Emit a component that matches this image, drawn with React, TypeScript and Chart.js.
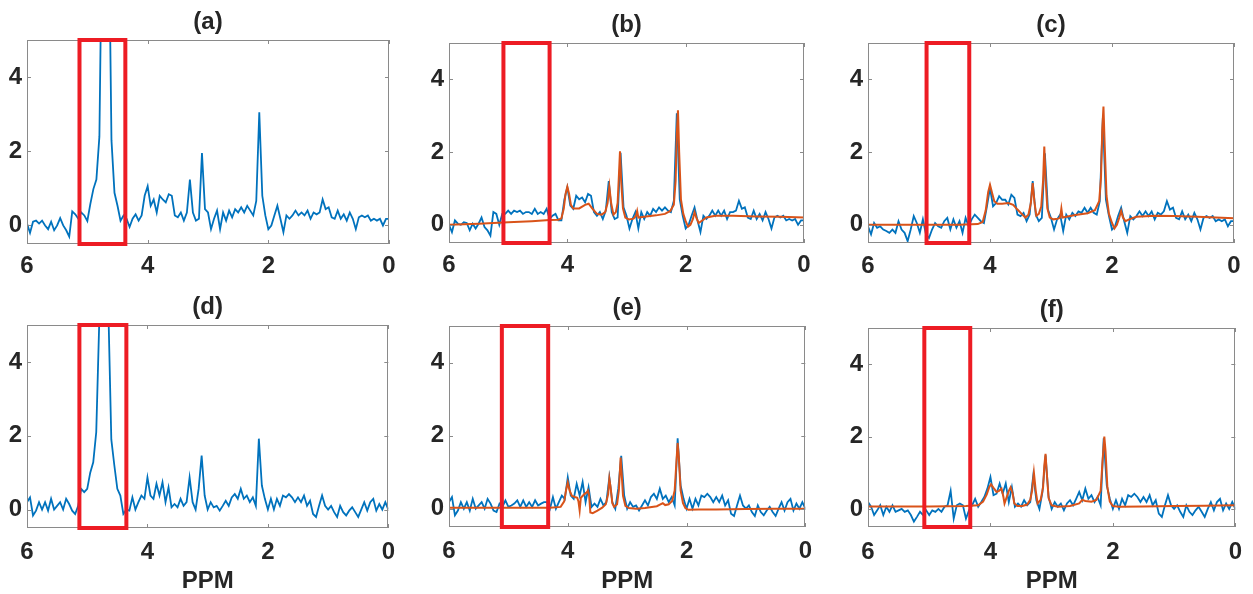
import { useEffect, useRef } from 'react';
import { Chart, registerables } from 'chart.js';

Chart.register(...registerables);

// ---------- DATA ----------
const panelTitles = ['(a)', '(b)', '(c)', '(d)', '(e)', '(f)'];
const xTicks = [6, 4, 2, 0];
const yTicks = [0, 2, 4];
const xAxisLabel = 'PPM';

// chemical-shift grid (ppm) for the measured spectra
const ppm = [
  6.0, 5.95, 5.9, 5.85, 5.8, 5.75, 5.7, 5.65, 5.6, 5.55, 5.5, 5.45, 5.4, 5.35, 5.3, 5.25, 5.2, 5.15, 5.1, 5.05,
  5.0, 4.95, 4.9, 4.85, 4.8, 4.75, 4.7, 4.65, 4.6, 4.55, 4.5, 4.45, 4.4, 4.35, 4.3, 4.25, 4.2, 4.15, 4.1, 4.05,
  4.0, 3.95, 3.9, 3.85, 3.8, 3.75, 3.7, 3.65, 3.6, 3.55, 3.5, 3.45, 3.4, 3.35, 3.3, 3.25, 3.2, 3.15, 3.1, 3.05,
  3.0, 2.95, 2.9, 2.85, 2.8, 2.75, 2.7, 2.65, 2.6, 2.55, 2.5, 2.45, 2.4, 2.35, 2.3, 2.25, 2.2, 2.15, 2.1, 2.05,
  2.0, 1.95, 1.9, 1.85, 1.8, 1.75, 1.7, 1.65, 1.6, 1.55, 1.5, 1.45, 1.4, 1.35, 1.3, 1.25, 1.2, 1.15, 1.1, 1.05,
  1.0, 0.95, 0.9, 0.85, 0.8, 0.75, 0.7, 0.65, 0.6, 0.55, 0.5, 0.45, 0.4, 0.35, 0.3, 0.25, 0.2, 0.15, 0.1, 0.05,
  0.0,
];

const spectrumA = [
  0.05, -0.2, 0.1, 0.13, 0.05, 0.13, 0, -0.1, 0.1, -0.13, 0, 0.2, 0, -0.13, -0.3, 0.38, 0.3, 0.18, 0.35, 0.27,
  0.12, 0.58, 0.98, 1.24, 2.4, 9, 14, 9, 2.3, 0.88, 0.53, 0.13, 0.27, 0.18, -0.04, 0.18, 0.3, 0.13, 0.27, 0.8,
  1.06, 0.53, 0.7, 0.35, 0.8, 0.7, 0.62, 0.84, 0.8, 0.27, 0.22, 0.35, 0.13, 0.35, 1.24, 0.35, 0.13, 0.18, 1.95, 0.44,
  0.35, -0.1, 0.18, 0.4, -0.1, 0.35, 0.13, 0.4, 0.22, 0.44, 0.35, 0.49, 0.35, 0.53, 0.4, 0.27, 0.66, 3.05, 0.8, 0.27,
  -0.1, 0, 0.27, 0.53, 0.18, -0.18, 0.27, 0.18, 0.27, 0.4, 0.27, 0.35, 0.27, 0.4, 0.18, 0.35, 0.3, 0.35, 0.7, 0.44,
  0.49, 0.22, 0.18, 0.4, 0.18, 0.3, 0.13, 0.35, 0.18, -0.1, 0.22, 0.27, 0.22, 0.27, 0.13, 0.18, 0.13, 0.18, 0, 0.18,
  0.18,
];

const spectrumB = [
  0, -0.2, 0.12, 0.03, 0, 0.07, 0.05, -0.15, 0.03, -0.1, 0.03, 0.2, -0.06, -0.15, -0.3, 0.35, 0.3, 0, 0.3, 0.3,
  0.39, 0.3, 0.39, 0.35, 0.39, 0.3, 0.35, 0.35, 0.3, 0.44, 0.3, 0.35, 0.3, 0.44, 0.16, 0.25, 0.3, 0.12, 0.12, 0.7,
  1.03, 0.53, 0.44, 0.8, 0.7, 0.75, 0.62, 0.85, 0.8, 0.35, 0.25, 0.35, 0.16, 0.39, 1.2, 0.35, 0.16, 0.2, 1.98, 0.48,
  0.25, -0.1, 0.16, 0.35, -0.1, 0.35, 0.16, 0.35, 0.25, 0.44, 0.35, 0.48, 0.39, 0.48, 0.39, 0.35, 0.66, 3.07, 0.7, 0.25,
  -0.1, 0, 0.25, 0.48, 0.12, -0.2, 0.25, 0.16, 0.25, 0.39, 0.25, 0.39, 0.25, 0.39, 0.16, 0.35, 0.35, 0.39, 0.66, 0.44,
  0.48, 0.2, 0.16, 0.39, 0.16, 0.3, 0.12, 0.35, 0.16, -0.1, 0.2, 0.25, 0.2, 0.25, 0.12, 0.16, 0.12, 0.16, 0, 0.12,
  0.12,
];

const spectrumC = [
  -0.04, -0.26, 0.05, -0.08, -0.04, -0.13, -0.17, -0.22, -0.13, -0.22, 0.1, -0.13, -0.22, -0.45, -0.13, 0.24, 0.05, -0.22, 0.15, -0.26,
  -0.36, -0.13, 0.05, -0.04, -0.08, 0.1, 0.19, -0.13, 0.15, -0.08, 0.1, -0.22, 0.19, -0.04, 0.15, 0.28, 0.19, 0.1, 0.05, 0.51,
  1.01, 0.51, 0.6, 0.79, 0.69, 0.69, 0.56, 0.83, 0.74, 0.28, 0.24, 0.33, 0.1, 0.28, 1.2, 0.28, 0.1, 0.19, 1.97, 0.42,
  0.19, -0.13, 0.15, 0.28, -0.17, 0.28, 0.15, 0.33, 0.24, 0.37, 0.33, 0.47, 0.33, 0.47, 0.33, 0.28, 0.65, 2.95, 0.69, 0.24,
  -0.13, -0.04, 0.24, 0.47, 0.1, -0.22, 0.24, 0.15, 0.24, 0.37, 0.24, 0.37, 0.24, 0.37, 0.15, 0.33, 0.28, 0.37, 0.65, 0.42,
  0.47, 0.19, 0.15, 0.37, 0.15, 0.28, 0.1, 0.33, 0.15, -0.13, 0.19, 0.24, 0.19, 0.24, 0.1, 0.15, 0.1, 0.15, -0.04, 0.1,
  0.1,
];

const spectrumD = [
  0.2, 0.33, -0.16, -0.03, 0.2, 0, 0.2, -0.03, 0.29, 0, 0.1, 0.2, 0, 0.29, 0.15, -0.03, -0.12, 0.1, 0.56, 0.47,
  0.56, 1.0, 1.28, 2.1, 5.1, 10, 12, 5.5, 1.9, 1.2, 0.56, 0.38, -0.12, 0, -0.03, 0.33, 0, 0.2, 0.38, 0.29,
  0.87, 0.38, 0.29, 0.7, 0.38, 0.74, 0.2, 0.6, 0.06, 0.15, 0.06, 0.29, 0.1, 0.2, 0.87, 0.2, 0, 0.56, 1.46, 0.38,
  0, 0.2, 0.06, 0.1, -0.03, 0.1, 0.24, 0.1, 0.33, 0.42, 0.29, 0.56, 0.29, 0.38, 0.2, 0.33, 0.1, 1.92, 0.65, 0.29,
  0, 0.29, 0, 0.29, 0.1, 0.38, 0.33, 0.42, 0.33, 0.2, 0.33, 0.2, 0.38, 0.1, 0.24, -0.12, -0.2, 0.1, 0.38, 0.1,
  0, 0.1, -0.07, -0.2, 0.1, -0.07, -0.16, -0.03, 0.06, -0.07, -0.2, 0, 0.2, -0.03, 0.2, 0.29, -0.03, 0.15, 0, 0.2,
  0,
];

const spectrumE = [
  0.18, 0.32, -0.18, -0.05, 0.18, 0, 0.18, -0.05, 0.27, 0, 0.09, 0.18, 0, 0.27, 0.14, -0.05, -0.09, 0.14, 0.05, 0.23,
  0.05, 0.09, 0.14, 0.23, 0.05, 0.23, 0.05, 0.18, 0.05, 0.23, 0.09, 0.14, 0.18, 0.18, 0, 0.32, 0, 0.18, 0.36, 0.27,
  0.86, 0.36, 0.27, 0.68, 0.36, 0.73, 0.18, 0.59, 0.05, 0.14, 0.05, 0.27, 0.09, 0.18, 0.86, 0.18, 0, 0.55, 1.45, 0.36,
  0, 0.18, 0.05, 0.09, -0.05, 0.09, 0.23, 0.09, 0.32, 0.41, 0.27, 0.55, 0.27, 0.36, 0.18, 0.32, 0.09, 1.93, 0.64, 0.27,
  0, 0.27, 0, 0.27, 0.09, 0.36, 0.32, 0.41, 0.32, 0.18, 0.32, 0.18, 0.36, 0.09, 0.23, -0.14, -0.2, 0.09, 0.36, 0.09,
  0, 0.09, -0.09, -0.2, 0.09, -0.09, -0.18, -0.05, 0.05, -0.09, -0.2, 0, 0.18, -0.05, 0.18, 0.27, -0.05, 0.14, 0, 0.18,
  0,
];

const spectrumF = [
  0.19, 0.06, -0.17, -0.04, 0.1, -0.17, 0.06, -0.08, 0.1, -0.08, -0.04, 0, -0.08, -0.04, -0.17, -0.35, -0.22, -0.08, -0.17, -0.04,
  -0.17, -0.04, -0.08, 0, -0.08, 0.06, 0.1, 0.5, -0.27, 0.1, 0.15, 0.1, -0.27, -0.04, 0.1, 0.28, 0.06, 0.19, 0.33, 0.56,
  0.88, 0.38, 0.42, 0.7, 0.42, 0.7, 0.19, 0.6, 0.06, 0.15, 0.06, 0.24, 0.1, 0.19, 0.93, 0.24, 0, 0.47, 1.48, 0.33,
  0, 0.19, 0.06, 0.15, -0.04, 0.15, 0.24, 0.1, 0.28, 0.47, 0.24, 0.56, 0.28, 0.38, 0.19, 0.33, 0.1, 1.95, 0.65, 0.28,
  0, 0.24, 0, 0.28, 0.1, 0.38, 0.33, 0.42, 0.33, 0.19, 0.33, 0.19, 0.38, 0.1, 0.24, -0.13, -0.22, 0.1, 0.38, 0.1,
  0, 0.1, -0.08, -0.22, 0.1, -0.08, -0.17, -0.04, 0.06, -0.08, -0.22, 0, 0.19, -0.04, 0.19, 0.28, -0.04, 0.15, 0, 0.19,
  0,
];

// fitted curves (own ppm sampling)
const fitPpmB = [
  6.0, 5.5, 5.0, 4.6, 4.3, 4.15, 4.1, 4.06, 4.03, 4.0, 3.97, 3.94, 3.9, 3.8, 3.7, 3.64, 3.58, 3.5, 3.42, 3.36,
  3.32, 3.29, 3.26, 3.22, 3.18, 3.15, 3.13, 3.11, 3.09, 3.06, 3.02, 2.96, 2.88, 2.84, 2.82, 2.8, 2.7, 2.5, 2.35, 2.26,
  2.2, 2.17, 2.15, 2.13, 2.11, 2.08, 2.04, 2.0, 1.96, 1.92, 1.88, 1.85, 1.82, 1.78, 1.72, 1.65, 1.5, 1.2, 0.8, 0.4, 0.0,
];
const fitB = [
  0.0, 0.03, 0.07, 0.1, 0.13, 0.14, 0.18, 0.45, 0.85, 1.05, 0.85, 0.55, 0.45, 0.45, 0.55, 0.58, 0.45, 0.3, 0.28, 0.35,
  0.6, 1.05, 0.6, 0.28, 0.35, 0.6, 1.3, 2.02, 1.2, 0.45, 0.2, 0.15, 0.17, 0.25, 0.38, 0.2, 0.22, 0.26, 0.3, 0.38,
  0.55, 1.2, 2.5, 3.15, 2.0, 0.7, 0.3, 0.1, -0.05, 0.0, 0.15, 0.35, 0.2, 0.05, 0.12, 0.2, 0.25, 0.25, 0.23, 0.22, 0.2,
];

const fitPpmC = [
  6.0, 5.0, 4.5, 4.2, 4.12, 4.07, 4.03, 4.0, 3.97, 3.93, 3.88, 3.8, 3.7, 3.62, 3.55, 3.48, 3.42, 3.37, 3.33, 3.3,
  3.27, 3.24, 3.2, 3.16, 3.13, 3.11, 3.09, 3.06, 3.02, 2.96, 2.88, 2.85, 2.83, 2.81, 2.75, 2.6, 2.4, 2.28, 2.21, 2.18,
  2.16, 2.14, 2.12, 2.09, 2.05, 2.0, 1.96, 1.92, 1.88, 1.85, 1.82, 1.78, 1.72, 1.6, 1.3, 1.0, 0.6, 0.3, 0.0,
];
const fitC = [
  0.0, 0.0, 0.0, 0.02, 0.08, 0.4, 0.9, 1.1, 0.9, 0.65, 0.58, 0.58, 0.6, 0.55, 0.42, 0.3, 0.2, 0.28, 0.6, 1.15,
  0.6, 0.25, 0.3, 0.5, 1.2, 2.15, 1.3, 0.45, 0.2, 0.15, 0.17, 0.2, 0.45, 0.2, 0.22, 0.27, 0.32, 0.4, 0.65, 1.3,
  2.6, 3.25, 2.2, 0.8, 0.3, 0.05, -0.1, 0.0, 0.2, 0.38, 0.2, 0.1, 0.15, 0.22, 0.25, 0.24, 0.22, 0.2, 0.18,
];

const fitPpmE = [
  6.0, 5.0, 4.3, 4.12, 4.06, 4.03, 4.0, 3.97, 3.93, 3.88, 3.84, 3.82, 3.8, 3.78, 3.72, 3.68, 3.66, 3.64, 3.62, 3.58,
  3.5, 3.42, 3.36, 3.32, 3.3, 3.28, 3.25, 3.22, 3.17, 3.14, 3.11, 3.09, 3.07, 3.03, 2.97, 2.85, 2.7, 2.5, 2.44, 2.4,
  2.36, 2.3, 2.24, 2.2, 2.17, 2.15, 2.13, 2.1, 2.06, 2.02, 1.97, 1.8, 1.5, 1.0, 0.5, 0.0,
];
const fitE = [
  0.03, 0.03, 0.03, 0.05, 0.2, 0.5, 0.72, 0.5, 0.35, 0.32, 0.3, 0.2, -0.05, 0.3, 0.4, 0.45, 0.5, 0.35, -0.1, -0.12,
  -0.05, 0.03, 0.12, 0.4, 0.82, 0.6, 0.15, 0.05, 0.12, 0.5, 1.4, 0.9, 0.35, 0.08, 0.02, 0.0, 0.02, 0.07, 0.12, 0.15,
  0.1, 0.12, 0.22, 0.5, 1.3, 1.8, 1.4, 0.5, 0.15, 0.02, -0.03, -0.02, -0.02, -0.01, 0.0, 0.0,
];

const fitPpmF = [
  6.0, 5.0, 4.4, 4.2, 4.12, 4.06, 4.02, 3.99, 3.95, 3.9, 3.86, 3.82, 3.79, 3.77, 3.74, 3.7, 3.67, 3.64, 3.61, 3.56,
  3.48, 3.4, 3.35, 3.32, 3.29, 3.26, 3.23, 3.18, 3.14, 3.12, 3.1, 3.08, 3.05, 3.0, 2.9, 2.7, 2.55, 2.5, 2.45, 2.35,
  2.27, 2.2, 2.17, 2.14, 2.12, 2.09, 2.05, 2.0, 1.9, 1.5, 1.0, 0.5, 0.0,
];
const fitF = [
  0.07, 0.07, 0.08, 0.1, 0.2, 0.4, 0.6, 0.68, 0.58, 0.47, 0.5, 0.56, 0.35, 0.15, 0.3, 0.5, 0.6, 0.45, 0.15, 0.08,
  0.08, 0.12, 0.25, 0.5, 1.0, 0.5, 0.15, 0.25, 0.6, 1.2, 1.52, 1.0, 0.3, 0.1, 0.06, 0.08, 0.15, 0.25, 0.22, 0.2,
  0.25, 0.5, 1.3, 2.0, 1.6, 0.6, 0.2, 0.08, 0.06, 0.07, 0.08, 0.09, 0.1,
];

// highlighted (water) region per panel, ppm
const regionFrom = [5.13, 5.08, 5.04, 5.13, 5.11, 5.08];
const regionTo = [4.37, 4.3, 4.34, 4.35, 4.33, 4.33];

const measured = [spectrumA, spectrumB, spectrumC, spectrumD, spectrumE, spectrumF];
const fitPpm = [null, fitPpmB, fitPpmC, null, fitPpmE, fitPpmF];
const fitVals = [null, fitB, fitC, null, fitE, fitF];

// ---------- STYLE / LAYOUT ----------
const BLUE = '#0072BD';
const ORANGE = '#D95319';
const RED = '#ED1C24';
const TEXT = '#262626';
const FRAME = '#8a8a8a';
const FONT = "'Liberation Sans', Arial, Helvetica, sans-serif";

// plot-area rectangles in page pixels
const layout = [
  { L: 27, R: 389, T: 40, B: 244, yw: 27, tp: 8, pb: 0 },
  { L: 449, R: 804, T: 43, B: 243, yw: 40, tp: 8, pb: 0 },
  { L: 868, R: 1234, T: 43, B: 243, yw: 40, tp: 9, pb: 0 },
  { L: 27, R: 389, T: 325, B: 528, yw: 27, tp: 10, pb: 3 },
  { L: 449, R: 806, T: 326, B: 527, yw: 40, tp: 10, pb: 2 },
  { L: 868, R: 1237, T: 328, B: 527, yw: 40, tp: 11, pb: 2 },
];

const framePlugin = {
  id: 'frame',
  afterDatasetsDraw(chart: any, _args: any, opts: any) {
    const { ctx, chartArea, scales } = chart;
    const { left, right, top, bottom } = chartArea;
    const x = scales.x;
    const y = scales.y;
    ctx.save();
    ctx.strokeStyle = FRAME;
    ctx.lineWidth = 1;
    ctx.strokeRect(Math.round(left) + 0.5, Math.round(top) + 0.5, Math.round(right - left) - 1, Math.round(bottom - top) - 1);
    ctx.beginPath();
    const tl = 4;
    xTicks.forEach((v) => {
      const px = Math.round(x.getPixelForValue(v)) + 0.5;
      ctx.moveTo(px, bottom);
      ctx.lineTo(px, bottom - tl);
      ctx.moveTo(px, top);
      ctx.lineTo(px, top + tl);
    });
    yTicks.forEach((v) => {
      const py = Math.round(y.getPixelForValue(v)) + 0.5;
      ctx.moveTo(left, py);
      ctx.lineTo(left + tl, py);
      ctx.moveTo(right, py);
      ctx.lineTo(right - tl, py);
    });
    ctx.stroke();
    // highlighted region
    const x1 = x.getPixelForValue(opts.from);
    const x2 = x.getPixelForValue(opts.to);
    const y1 = y.getPixelForValue(5);
    const y2 = y.getPixelForValue(-0.5);
    ctx.strokeStyle = RED;
    ctx.lineWidth = 4;
    ctx.strokeRect(x1, y1, x2 - x1, y2 - y1);
    ctx.restore();
  },
};

function Panel({ i }: { i: number }) {
  const ref = useRef<HTMLCanvasElement>(null);
  const g = layout[i];
  const row2 = i >= 3;
  const bottomSpace = row2 ? 70 : 40;
  const w = g.R - g.L + g.yw + 16;
  const h = g.B - g.T + 36 + bottomSpace;

  useEffect(() => {
    const datasets: any[] = [];
    const fp = fitPpm[i];
    const fv = fitVals[i];
    if (fp && fv) {
      datasets.push({
        label: 'fit',
        data: fp.map((p, k) => ({ x: p, y: fv[k] })),
        borderColor: ORANGE,
        backgroundColor: ORANGE,
        borderWidth: 2,
        pointRadius: 0,
        tension: 0,
        order: 0,
      });
    }
    datasets.push({
      label: 'spectrum',
      data: ppm.map((p, k) => ({ x: p, y: measured[i][k] })),
      borderColor: BLUE,
      backgroundColor: BLUE,
      borderWidth: 1.8,
      pointRadius: 0,
      tension: 0,
      order: 1,
    });

    const tickFont = { family: FONT, size: 24, weight: 'bold' as const, lineHeight: '28px' };

    const chart = new Chart(ref.current as HTMLCanvasElement, {
      type: 'line',
      data: { datasets },
      options: {
        responsive: false,
        animation: false,
        devicePixelRatio: 1,
        layout: { padding: { left: 0, right: 16, top: 0, bottom: 0 } },
        plugins: {
          legend: { display: false },
          tooltip: { enabled: false },
          title: {
            display: true,
            text: panelTitles[i],
            color: TEXT,
            font: tickFont,
            padding: { top: 4, bottom: 4 },
            fullSize: false,
          },
          // @ts-ignore
          frame: { from: regionFrom[i], to: regionTo[i] },
        },
        scales: {
          x: {
            type: 'linear',
            min: 0,
            max: 6,
            reverse: true,
            grid: { display: false, drawTicks: false },
            border: { display: false },
            ticks: { color: TEXT, font: tickFont, padding: g.tp, maxRotation: 0 },
            afterBuildTicks: (s: any) => {
              s.ticks = xTicks.map((v) => ({ value: v }));
            },
            afterFit: (s: any) => {
              s.height = bottomSpace;
            },
            title: row2
              ? { display: true, text: xAxisLabel, color: TEXT, font: tickFont, padding: { top: 0, bottom: g.pb } }
              : { display: false },
          },
          y: {
            type: 'linear',
            min: -0.5,
            max: 5,
            grid: { display: false, drawTicks: false },
            border: { display: false },
            ticks: { color: TEXT, font: tickFont, padding: 5 },
            afterBuildTicks: (s: any) => {
              s.ticks = yTicks.map((v) => ({ value: v }));
            },
            afterFit: (s: any) => {
              s.width = g.yw;
            },
          },
        },
      } as any,
      plugins: [framePlugin as any],
    });
    return () => chart.destroy();
  }, []);

  return (
    <canvas
      ref={ref}
      width={w}
      height={h}
      style={{ position: 'absolute', left: g.L - g.yw, top: g.T - 36, width: w, height: h, display: 'block' }}
    />
  );
}

export default function App() {
  return (
    <div style={{ position: 'absolute', left: 0, top: 0, width: 1253, height: 594, background: '#ffffff', overflow: 'hidden' }}>
      {panelTitles.map((_, i) => (
        <Panel key={i} i={i} />
      ))}
    </div>
  );
}
